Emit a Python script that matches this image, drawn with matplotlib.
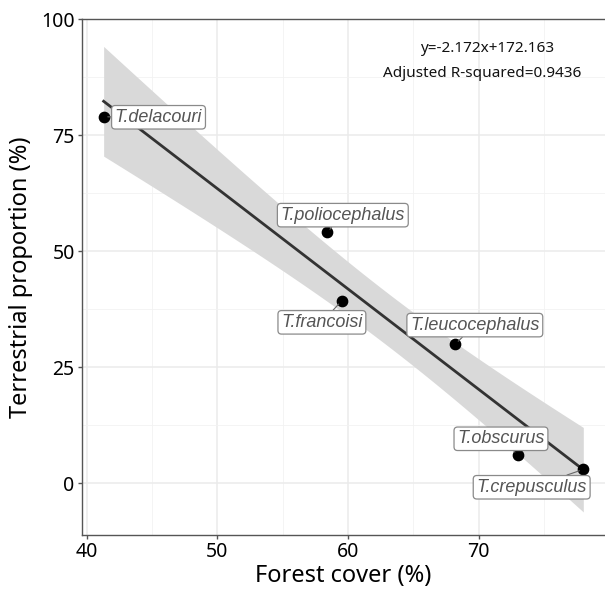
import numpy as np
import matplotlib.pyplot as plt
from matplotlib.ticker import MultipleLocator

# data
species = ['T.delacouri', 'T.poliocephalus', 'T.francoisi', 'T.leucocephalus',
           'T.obscurus', 'T.crepusculus']
forest_cover = [41.3, 58.4, 59.5, 68.2, 73.0, 78.0]
terrestrial = [79.0, 54.1, 39.3, 30.0, 6.1, 3.0]

# where the repelled labels sit (data coords)
label_x = [45.5, 59.6, 58.0, 69.7, 71.7, 74.05]
label_y = [78.9, 57.8, 34.7, 34.1, 9.6, -0.85]

eq_text = 'y=-2.172x+172.163'
r2_text = 'Adjusted R-squared=0.9436'

x = np.array(forest_cover)
y = np.array(terrestrial)

# linear fit + band (like geom_smooth(method="lm"))
slope, icept = np.polyfit(x, y, 1)
n = len(x)
resid = y - (slope * x + icept)
s = np.sqrt(np.sum(resid ** 2) / (n - 2))
sxx = np.sum((x - x.mean()) ** 2)
xs = np.linspace(x.min(), x.max(), 100)
ys = slope * xs + icept
se = s * np.sqrt(1 / n + (xs - x.mean()) ** 2 / sxx)
tcrit = 2.0
lo, hi = ys - tcrit * se, ys + tcrit * se

plt.rcParams['font.family'] = ['Noto Sans', 'DejaVu Sans']

fig = plt.figure(figsize=(6.05, 5.91), dpi=100)
ax = fig.add_axes([0.135, 0.0953, 0.865, 0.8727])

ax.set_xlim(39.62, 79.66)
ax.set_ylim(-11.07, 100.1)

ax.xaxis.set_major_locator(MultipleLocator(10))
ax.xaxis.set_minor_locator(MultipleLocator(5))
ax.yaxis.set_major_locator(MultipleLocator(25))
ax.yaxis.set_minor_locator(MultipleLocator(12.5))
ax.grid(which='major', color='#EBEBEB', linewidth=1.1)
ax.grid(which='minor', color='#F2F2F2', linewidth=0.6)
ax.set_axisbelow(True)

ax.fill_between(xs, lo, hi, color='#D9D9D9', linewidth=0, zorder=2)
ax.plot(xs, ys, color='#333333', linewidth=2.0, zorder=3)
ax.scatter(x, y, s=55, color='black', zorder=4)

for name, px, py, lx, ly in zip(species, forest_cover, terrestrial, label_x, label_y):
    ax.annotate(name, xy=(px, py), xytext=(lx, ly), ha='center', va='center',
                fontsize=13, style='italic', color='#555555',
                family=['Liberation Sans', 'DejaVu Sans'],
                bbox=dict(boxstyle='round,pad=0.18,rounding_size=0.2',
                          fc='white', ec='#8A8A8A', lw=0.9),
                arrowprops=dict(arrowstyle='-', color='#666666', lw=0.8,
                                shrinkA=0, shrinkB=3),
                zorder=5)

ax.text(0.775, 0.942, eq_text, transform=ax.transAxes, ha='center', va='center',
        fontsize=11, color='#111111')
ax.text(0.766, 0.895, r2_text, transform=ax.transAxes, ha='center', va='center',
        fontsize=11, color='#111111')

for side in ['left', 'bottom', 'top']:
    ax.spines[side].set_color('#555555')
    ax.spines[side].set_linewidth(1.0)
ax.spines['right'].set_visible(False)
ax.tick_params(which='major', length=3, width=1, color='#555555',
               labelsize=14, labelcolor='black', pad=2)
ax.tick_params(which='minor', length=0)

ax.set_xlabel('Forest cover (%)', fontsize=17, labelpad=2)
ax.set_ylabel('Terrestrial proportion (%)', fontsize=17, labelpad=6)

fig.savefig('out.png', dpi=100)
